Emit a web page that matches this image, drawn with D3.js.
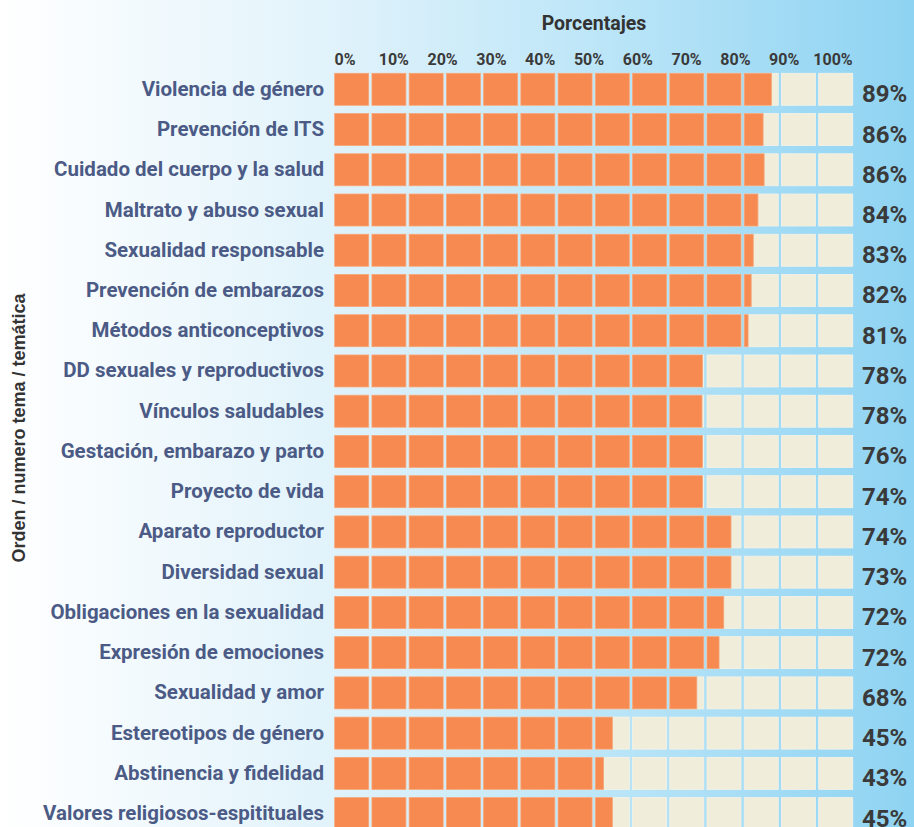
<!DOCTYPE html>
<html>
<head>
<meta charset="utf-8">
<script src="https://cdn.jsdelivr.net/npm/d3@7"></script>
<style>
body{margin:0;padding:0;overflow:hidden;}
svg{display:block;font-family:Roboto,sans-serif;}
</style>
</head>
<body>
<svg id="chart" width="914" height="827"></svg>
<script>
// temas, de arriba a abajo
var temas = ["Violencia de género","Prevención de ITS","Cuidado del cuerpo y la salud","Maltrato y abuso sexual",
  "Sexualidad responsable","Prevención de embarazos","Métodos anticonceptivos","DD sexuales y reproductivos",
  "Vínculos saludables","Gestación, embarazo y parto","Proyecto de vida","Aparato reproductor","Diversidad sexual",
  "Obligaciones en la sexualidad","Expresión de emociones","Sexualidad y amor","Estereotipos de género",
  "Abstinencia y fidelidad","Valores religiosos-espitituales"];
// porcentaje escrito a la derecha
var etiquetas = [89,86,86,84,83,82,81,78,78,76,74,74,73,72,72,68,45,43,45];
// largo de la barra naranja tal como se dibuja (en % de la pista)
var barras = [84.3,82.7,82.9,81.7,80.8,80.4,79.8,71.0,70.9,71.0,71.0,76.5,76.5,75.1,74.2,69.9,53.6,51.9,53.6];
var ticks = [0,10,20,30,40,50,60,70,80,90,100];
var nCeldas = 14;

var svg = d3.select('#chart');

// fondo degradado
var grad = svg.append('defs').append('linearGradient').attr('id','fondo');
grad.append('stop').attr('offset','0%').attr('stop-color','#ffffff');
grad.append('stop').attr('offset','35%').attr('stop-color','#e2f3fb');
grad.append('stop').attr('offset','65%').attr('stop-color','#bde6f8');
grad.append('stop').attr('offset','100%').attr('stop-color','#8ed3f2');
svg.append('rect').attr('width',914).attr('height',827).attr('fill','url(#fondo)');

var x0 = 334.7, x1 = 852.7;
var x = d3.scaleLinear().domain([0,100]).range([x0,x1]);
var celda = d3.scaleBand().domain(d3.range(nCeldas)).range([x0,x1]).paddingInner(0.087);
var y = d3.scaleBand().domain(temas).range([73.3,829.6]).paddingInner(0.205);
var xt = d3.scaleLinear().domain([0,100]).range([345,833]);

// titulo arriba
svg.append('text').attr('x',594).attr('y',30).attr('text-anchor','middle')
  .attr('font-size',19.5).attr('font-weight','bold').attr('fill','#333').text('Porcentajes');

svg.selectAll('.tick').data(ticks).enter().append('text')
  .attr('x',function(d){return xt(d);}).attr('y',65).attr('text-anchor','middle')
  .attr('font-size',16).attr('font-weight','bold').attr('fill','#3a3a3a')
  .text(function(d){return d+'%';});

// titulo eje y
svg.append('text').attr('transform','translate(25,428) rotate(-90)').attr('text-anchor','middle')
  .attr('font-family','"Liberation Sans",Arial,sans-serif')
  .attr('font-size',18).attr('font-weight','bold').attr('fill','#333').text('Orden / numero tema / temática');

var filas = svg.selectAll('.fila').data(temas).enter().append('g')
  .attr('transform',function(d){return 'translate(0,'+y(d)+')';});

filas.append('text').attr('x',324).attr('y',y.bandwidth()/2+6.5).attr('text-anchor','end')
  .attr('font-size',20.5).attr('font-weight','bold').attr('fill','#4b5b86')
  .text(function(d){return d;});

filas.each(function(t,i){
  var g = d3.select(this);
  var fin = x(barras[i]);
  g.selectAll('.c').data(d3.range(nCeldas)).enter().append('rect')
    .attr('x',function(c){return celda(c);}).attr('y',0)
    .attr('width',celda.bandwidth()).attr('height',y.bandwidth())
    .attr('fill','#f0eddb').attr('stroke','#f7f3e6').attr('stroke-width',0.8);
  g.selectAll('.o').data(d3.range(nCeldas).filter(function(c){return celda(c)<fin;})).enter().append('rect')
    .attr('x',function(c){return celda(c);}).attr('y',0)
    .attr('width',function(c){return Math.min(celda.bandwidth(),fin-celda(c));}).attr('height',y.bandwidth())
    .attr('fill','#f68a50').attr('stroke','#f4a57a').attr('stroke-width',0.8);
  g.append('text').attr('x',862).attr('y',y.bandwidth()/2+13)
    .attr('font-size',24).attr('font-weight','bold').attr('fill','#3a3a3a')
    .text(etiquetas[i]+'%');
});
</script>
</body>
</html>
